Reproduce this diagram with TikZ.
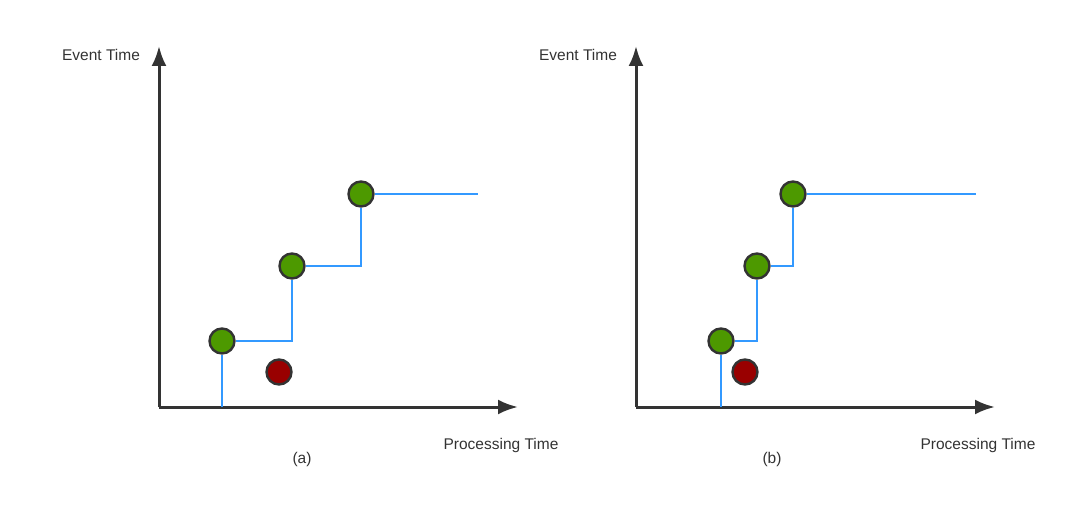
\documentclass[tikz,border=0pt]{standalone}
\usepackage{fontspec}
\setmainfont{Liberation Sans}
\usetikzlibrary{arrows.meta}
\definecolor{axisc}{HTML}{333333}
\definecolor{stepc}{HTML}{3399FF}
\definecolor{greenc}{HTML}{4D9900}
\definecolor{redc}{HTML}{990000}
\tikzset{
  axisline/.style={draw=axisc, line width=3pt, -{Latex[length=20pt,width=15pt]}},
  stepline/.style={draw=stepc, line width=2.2pt},
  gdot/.style={circle, draw=axisc, line width=2.4pt, fill=greenc, minimum size=25pt, inner sep=0pt},
  rdot/.style={circle, draw=axisc, line width=2.4pt, fill=redc, minimum size=25pt, inner sep=0pt},
  lbl/.style={text=axisc, font=\fontsize{15.5}{18}\selectfont, inner sep=0pt}
}
\begin{document}
\begin{tikzpicture}[x=1pt,y=-1pt]
\useasboundingbox (0,0) rectangle (1080,511);
% ---------- panel (a)
\coordinate (ao) at (159,407);
\coordinate (ay) at (159,46);
\coordinate (ax) at (518,407);
\draw[axisline] (ao) -- (ay);
\draw[axisline] (ao) -- (ax);
\node[lbl] (aet) at (101,55) {Event Time};
\node[lbl] (apt) at (501,445) {Processing Time};
\node[lbl] (acap) at (302,459) {(a)};
\coordinate (as0) at (222,407);
\coordinate (as1) at (292,341);
\coordinate (as2) at (361,266);
\coordinate (aend) at (478,194);
\node[gdot] (ag1) at (222,341) {};
\node[gdot] (ag2) at (292,266) {};
\node[gdot] (ag3) at (361,194) {};
\node[rdot] (ar) at (279,372) {};
\draw[stepline] (as0) -- (ag1.south);
\draw[stepline] (ag1.east) -- (as1) -- (ag2.south);
\draw[stepline] (ag2.east) -- (as2) -- (ag3.south);
\draw[stepline] (ag3.east) -- (aend);
% ---------- panel (b)
\coordinate (bo) at (636,407);
\coordinate (by) at (636,46);
\coordinate (bx) at (995,407);
\draw[axisline] (bo) -- (by);
\draw[axisline] (bo) -- (bx);
\node[lbl] (bet) at (578,55) {Event Time};
\node[lbl] (bpt) at (978,445) {Processing Time};
\node[lbl] (bcap) at (772,459) {(b)};
\coordinate (bs0) at (721,407);
\coordinate (bs1) at (757,341);
\coordinate (bs2) at (793,266);
\coordinate (bend) at (976,194);
\node[gdot] (bg1) at (721,341) {};
\node[gdot] (bg2) at (757,266) {};
\node[gdot] (bg3) at (793,194) {};
\node[rdot] (br) at (745,372) {};
\draw[stepline] (bs0) -- (bg1.south);
\draw[stepline] (bg1.east) -- (bs1) -- (bg2.south);
\draw[stepline] (bg2.east) -- (bs2) -- (bg3.south);
\draw[stepline] (bg3.east) -- (bend);
\end{tikzpicture}
\end{document}
